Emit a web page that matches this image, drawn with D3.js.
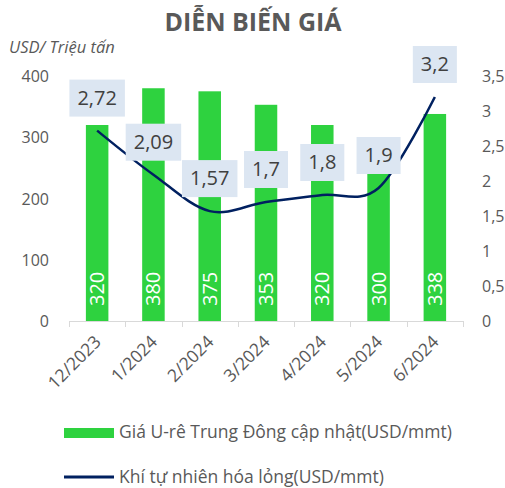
<!DOCTYPE html>
<meta charset="utf-8">
<style>
body { margin: 0; background: #fff; }
text { font-family: "Open Sans", sans-serif; }
</style>
<body>
<script src="https://d3js.org/d3.v7.min.js"></script>
<script>

var months = ["12/2023", "1/2024", "2/2024", "3/2024", "4/2024", "5/2024", "6/2024"];
var ureaPrice = [320, 380, 375, 353, 320, 300, 338];
var lngPrice = [2.72, 2.09, 1.57, 1.7, 1.8, 1.9, 3.2];
var leftTicks = [0, 100, 200, 300, 400];
var rightTicks = [0, 0.5, 1, 1.5, 2, 2.5, 3, 3.5];

var width = 505,
    height = 488;

var x = d3.scaleBand()
    .domain(months)
    .range([69, 463])
    .paddingInner(0.6)
    .paddingOuter(0.3);

var yLeft = d3.scaleLinear().domain([0, 400]).range([321, 76]);
var yRight = d3.scaleLinear().domain([0, 3.5]).range([321, 76]);

var fmt = function(d) { return String(d).replace(".", ","); };

var svg = d3.select("body").append("svg")
    .attr("width", width)
    .attr("height", height);

svg.append("text")
    .attr("x", 253)
    .attr("y", 31)
    .attr("text-anchor", "middle")
    .style("font-size", "25px")
    .style("font-weight", "bold")
    .style("fill", "#595959")
    .text("DIỄN BIẾN GIÁ");

svg.append("text")
    .attr("x", 9)
    .attr("y", 53)
    .style("font-size", "16.5px")
    .style("font-style", "italic")
    .style("fill", "#595959")
    .text("USD/ Triệu tấn");

// left axis
svg.selectAll(".ltick")
    .data(leftTicks)
  .enter().append("text")
    .attr("x", 49)
    .attr("y", function(d) { return yLeft(d) + 6; })
    .attr("text-anchor", "end")
    .style("font-size", "16px")
    .style("fill", "#595959")
    .text(function(d) { return d; });

// right axis
svg.selectAll(".rtick")
    .data(rightTicks)
  .enter().append("text")
    .attr("x", 482)
    .attr("y", function(d) { return yRight(d) + 6; })
    .style("font-size", "16px")
    .style("fill", "#595959")
    .text(fmt);

// bars
svg.selectAll(".bar")
    .data(ureaPrice)
  .enter().append("rect")
    .attr("x", function(d, i) { return x(months[i]); })
    .attr("y", function(d) { return yLeft(d); })
    .attr("width", x.bandwidth())
    .attr("height", function(d) { return yLeft(0) - yLeft(d); })
    .style("fill", "#2ed23f");

svg.selectAll(".barlabel")
    .data(ureaPrice)
  .enter().append("text")
    .attr("transform", function(d, i) {
      return "translate(" + (x(months[i]) + x.bandwidth() / 2 + 7) + "," + (yLeft(0) - 15) + ") rotate(-90)";
    })
    .style("font-size", "20px")
    .style("fill", "#fff")
    .text(function(d) { return d; });

// x axis
var boundaries = d3.range(months.length + 1).map(function(i) { return 69 + i * (394 / months.length); });

svg.append("line")
    .attr("x1", 69).attr("x2", 463)
    .attr("y1", 321.5).attr("y2", 321.5)
    .style("stroke", "#d9d9d9")
    .style("stroke-width", 1);

svg.selectAll(".xtick")
    .data(boundaries)
  .enter().append("line")
    .attr("x1", function(d) { return Math.round(d) + 0.5; })
    .attr("x2", function(d) { return Math.round(d) + 0.5; })
    .attr("y1", 321).attr("y2", 327)
    .style("stroke", "#d9d9d9");

svg.selectAll(".xlabel")
    .data(months)
  .enter().append("text")
    .attr("transform", function(d) {
      return "translate(" + (x(d) + x.bandwidth() / 2 + 5) + "," + 343 + ") rotate(-45)";
    })
    .attr("text-anchor", "end")
    .style("font-size", "17.5px")
    .style("fill", "#595959")
    .text(function(d) { return d; });

// line
var line = d3.line()
    .x(function(d, i) { return x(months[i]) + x.bandwidth() / 2; })
    .y(function(d) { return yRight(d); })
    .curve(d3.curveCardinal.tension(0));

svg.append("path")
    .datum(lngPrice)
    .attr("d", line)
    .style("fill", "none")
    .style("stroke", "#002060")
    .style("stroke-width", 2.5);

// line labels
var lab = svg.selectAll(".linelabel")
    .data(lngPrice)
  .enter().append("g")
    .attr("transform", function(d, i) {
      return "translate(" + (x(months[i]) + x.bandwidth() / 2) + "," + (yRight(d) - 33) + ")";
    });

lab.append("rect");

lab.append("text")
    .attr("text-anchor", "middle")
    .attr("y", 7)
    .style("font-size", "20px")
    .style("fill", "#404040")
    .text(fmt);

lab.each(function() {
  var g = d3.select(this);
  var w = g.select("text").node().getComputedTextLength();
  g.select("rect")
    .attr("x", -w / 2 - 8)
    .attr("y", -18)
    .attr("width", w + 16)
    .attr("height", 37)
    .style("fill", "#dce6f2");
});

// legend
svg.append("rect")
    .attr("x", 64).attr("y", 428)
    .attr("width", 50).attr("height", 10)
    .style("fill", "#2ed23f");

svg.append("text")
    .attr("x", 119).attr("y", 438)
    .style("font-size", "17.5px")
    .style("fill", "#595959")
    .text("Giá U-rê Trung Đông cập nhật(USD/mmt)");

svg.append("line")
    .attr("x1", 64).attr("x2", 114)
    .attr("y1", 477).attr("y2", 477)
    .style("stroke", "#002060")
    .style("stroke-width", 3);

svg.append("text")
    .attr("x", 119).attr("y", 483)
    .style("font-size", "17.5px")
    .style("fill", "#595959")
    .text("Khí tự nhiên hóa lỏng(USD/mmt)");

</script>
